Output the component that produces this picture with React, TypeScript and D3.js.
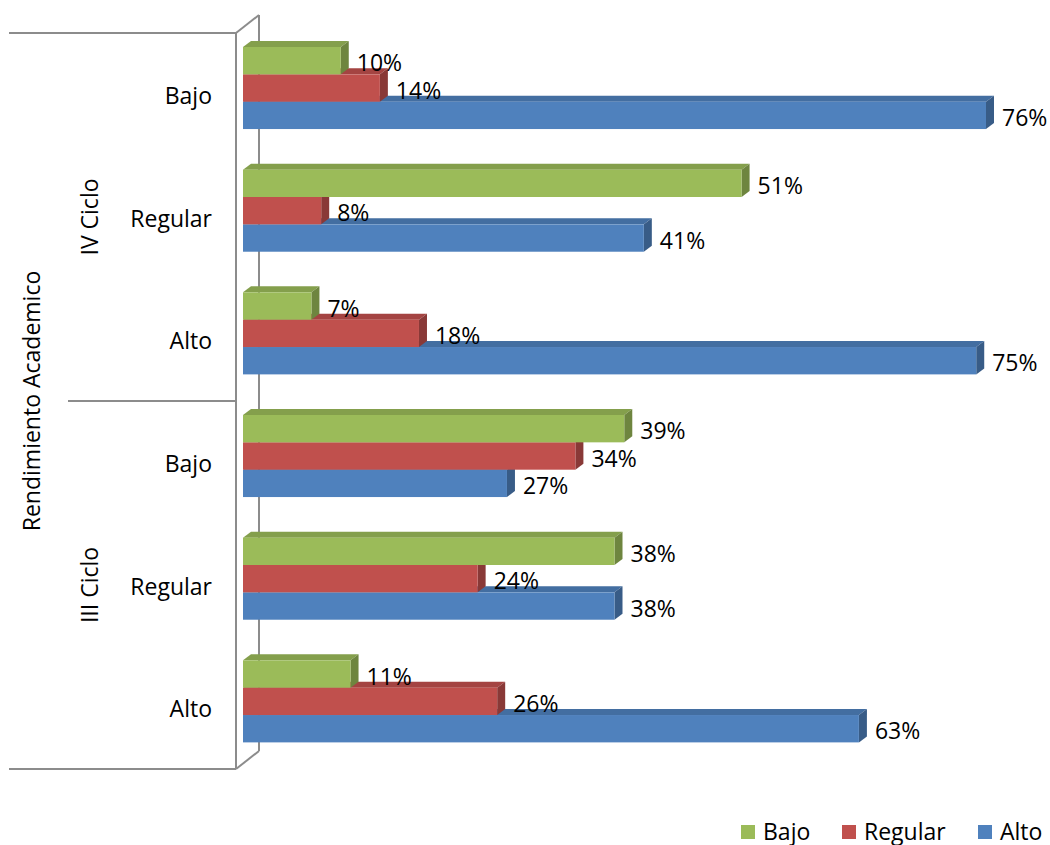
import React from "react";
import * as d3 from "d3";

const groups = ["IV Ciclo", "III Ciclo"];
const categories = ["Bajo", "Regular", "Alto", "Bajo", "Regular", "Alto"];
const categoryGroup = [0, 0, 0, 1, 1, 1];
const seriesNames = ["Bajo", "Regular", "Alto"];
const seriesColors = ["#9BBB59", "#C0504D", "#4F81BD"];
const bajoValues = [10, 51, 7, 39, 38, 11];
const regularValues = [14, 8, 18, 34, 24, 26];
const altoValues = [76, 41, 75, 27, 38, 63];
const seriesValues = [bajoValues, regularValues, altoValues];
const axisTitle = "Rendimiento Academico";

const FONT = "'Open Sans', 'Liberation Sans', sans-serif";
const FS = 23;

export default function App() {
  const W = 1050, H = 845;
  const plotTop = 33, plotBottom = 769;
  const wallFrontX = 236, wallBackX = 259;
  const dx = 8, dy = 6;
  const x = d3.scaleLinear().domain([0, 76]).range([243, 986]);
  const yBand = d3
    .scaleBand<number>()
    .domain(d3.range(categories.length))
    .range([plotTop, plotBottom])
    .paddingInner(0)
    .paddingOuter(0);
  const bw = yBand.bandwidth();
  const sub = d3
    .scaleBand<number>()
    .domain(d3.range(seriesNames.length))
    .range([bw * 0.114, bw * 0.783])
    .padding(0);
  const gray = "#8c8c8c";

  const bars: React.ReactNode[] = [];
  const labels: React.ReactNode[] = [];
  categories.forEach((_, ci) => {
    const b0 = yBand(ci)!;
    for (let si = seriesNames.length - 1; si >= 0; si--) {
      const v = seriesValues[si][ci];
      const y0 = b0 + sub(si)!;
      const y1 = y0 + sub.bandwidth();
      const x0 = x(0);
      const x1 = x(v);
      const base = d3.color(seriesColors[si])!;
      const topC = base.darker(0.45).formatHex();
      const sideC = base.darker(0.95).formatHex();
      bars.push(
        <g key={`b${ci}-${si}`}>
          <polygon
            points={`${x0},${y0} ${x0 + dx},${y0 - dy} ${x1 + dx},${y0 - dy} ${x1},${y0}`}
            fill={topC}
          />
          <polygon
            points={`${x1},${y0} ${x1 + dx},${y0 - dy} ${x1 + dx},${y1 - dy} ${x1},${y1}`}
            fill={sideC}
          />
          <rect x={x0} y={y0} width={x1 - x0} height={y1 - y0} fill={seriesColors[si]} />
        </g>
      );
      labels.push(
        <text
          key={`l${ci}-${si}`}
          x={x1 + dx + 8}
          y={(y0 + y1) / 2 + 2.5}
          dy="0.35em"
          fontFamily={FONT}
          fontSize={FS}
          fill="#000"
        >
          {v}%
        </text>
      );
    }
  });

  const legendX = [741, 842, 978];

  return (
    <svg
      width={W}
      height={H}
      style={{ display: "block", position: "absolute", left: 0, top: 0 }}
    >
      <rect width={W} height={H} fill="#fff" />
      {/* walls */}
      <g stroke={gray} strokeWidth={2} fill="none">
        <line x1={wallFrontX} y1={plotTop} x2={wallFrontX} y2={plotBottom} />
        <line x1={wallBackX} y1={plotTop - 18} x2={wallBackX} y2={plotBottom - 18} />
        <line x1={wallFrontX} y1={plotTop} x2={wallBackX} y2={plotTop - 18} />
        <line x1={wallFrontX} y1={plotBottom} x2={wallBackX} y2={plotBottom - 18} />
        <line x1={9} y1={plotTop} x2={wallFrontX} y2={plotTop} />
        <line x1={9} y1={plotBottom} x2={wallFrontX} y2={plotBottom} />
        <line x1={68} y1={yBand(3)!} x2={wallFrontX} y2={yBand(3)!} />
      </g>
      {bars}
      {labels}
      {/* category labels */}
      {categories.map((c, ci) => (
        <text
          key={`c${ci}`}
          x={212}
          y={yBand(ci)! + bw / 2 + 1.5}
          dy="0.35em"
          textAnchor="end"
          fontFamily={FONT}
          fontSize={FS}
        >
          {c}
        </text>
      ))}
      {groups.map((g, gi) => {
        const idx = categoryGroup.map((v, i) => (v === gi ? i : -1)).filter((i) => i >= 0);
        const yc = (yBand(idx[0])! + yBand(idx[idx.length - 1])! + bw) / 2;
        return (
          <text
            key={`g${gi}`}
            transform={`translate(90,${yc}) rotate(-90)`}
            dy="0.35em"
            textAnchor="middle"
            fontFamily={FONT}
            fontSize={FS}
          >
            {g}
          </text>
        );
      })}
      <text
        transform={`translate(32,${(plotTop + plotBottom) / 2}) rotate(-90)`}
        dy="0.35em"
        textAnchor="middle"
        fontFamily={FONT}
        fontSize={FS}
      >
        {axisTitle}
      </text>
      {/* legend */}
      {seriesNames.map((s, si) => (
        <g key={`lg${si}`}>
          <rect x={legendX[si]} y={825} width={14} height={14} fill={seriesColors[si]} />
          <text x={legendX[si] + 22} y={839.5} fontFamily={FONT} fontSize={FS}>
            {s}
          </text>
        </g>
      ))}
    </svg>
  );
}
